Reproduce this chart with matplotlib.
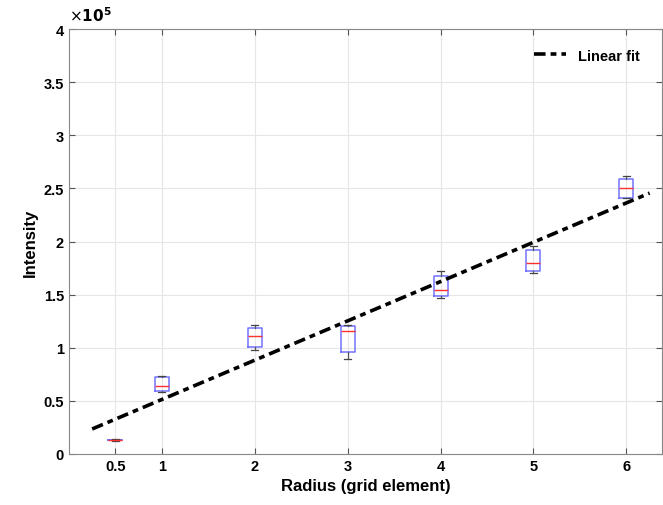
import numpy as np
import matplotlib.pyplot as plt

plt.rcParams['font.family'] = ['Liberation Sans', 'DejaVu Sans']

# 半徑與各組箱形圖統計量（單位 1e5）
radius  = [0.5, 1, 2, 3, 4, 5, 6]
whislo  = [0.125, 0.58, 0.98, 0.894, 1.468, 1.704, 2.41]
q1      = [0.128, 0.593, 1.007, 0.96, 1.487, 1.722, 2.41]
med     = [0.13, 0.64, 1.11, 1.158, 1.544, 1.80, 2.50]
q3      = [0.133, 0.725, 1.186, 1.205, 1.675, 1.92, 2.588]
whishi  = [0.137, 0.735, 1.214, 1.21, 1.722, 1.958, 2.616]

# 線性擬合
fit_x = [0.25, 6.25]
slope, intercept = 0.37, 0.143

stats = [dict(whislo=a, q1=b, med=c, q3=d, whishi=e, fliers=[])
         for a, b, c, d, e in zip(whislo, q1, med, q3, whishi)]

fig = plt.figure(figsize=(6.63, 5.06), dpi=100)
ax = fig.add_axes([0.104, 0.1008, 0.894, 0.8399])

ax.bxp(stats, positions=radius, widths=0.15, manage_ticks=False,
       boxprops=dict(color='#7373ff', linewidth=1.1),
       medianprops=dict(color='#ff3030', linewidth=1.0),
       whiskerprops=dict(color='#555555', linewidth=0.9),
       capprops=dict(color='#444444', linewidth=0.9))

fx = np.array(fit_x)
ax.plot(fx, slope * fx + intercept, color='black', linestyle='-.',
        linewidth=2.6, dashes=(3.2, 1.4, 1.6, 1.4), label='Linear fit')

ax.set_xlim(0, 6.38)
ax.set_ylim(0, 4)
ax.set_xticks(radius)
ax.set_xticklabels(['0.5', '1', '2', '3', '4', '5', '6'])
ax.set_yticks(np.arange(0, 4.01, 0.5))
ax.set_yticklabels(['0', '0.5', '1', '1.5', '2', '2.5', '3', '3.5', '4'])
ax.tick_params(direction='in', length=4, top=True, right=True,
               labelsize=10.5, color='#555555')
for lbl in ax.get_xticklabels() + ax.get_yticklabels():
    lbl.set_fontweight('bold')
ax.grid(True, color='#e6e6e6', linewidth=0.8)
ax.set_axisbelow(True)
for s in ax.spines.values():
    s.set_color('#888888')

ax.set_xlabel('Radius (grid element)', fontsize=12, fontweight='bold')
ax.set_ylabel('Intensity', fontsize=12, fontweight='bold')
ax.text(0.0, 1.012, r'$\times\mathbf{10^5}$', transform=ax.transAxes,
        fontsize=11, fontweight='bold', va='bottom', ha='left')

leg = ax.legend(loc='upper right', bbox_to_anchor=(0.985, 0.985), frameon=False,
                prop=dict(weight='bold', size=10.5), handlelength=2.2)

fig.savefig('out.png', dpi=100)
